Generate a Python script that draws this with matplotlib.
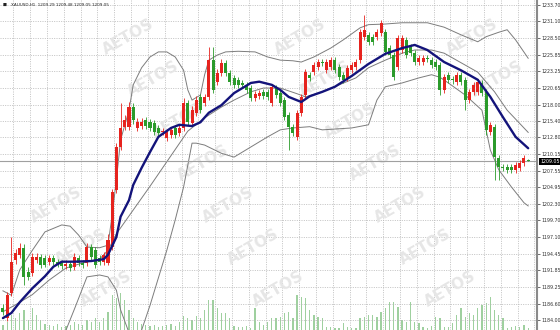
import matplotlib
matplotlib.use("Agg")
import matplotlib.pyplot as plt
import matplotlib.transforms as mtrans
import numpy as np

# === 数据：XAUUSD H1 K线 ===
opens = [1185.9, 1184.3, 1188.3, 1193.5, 1194.3, 1195.4, 1191.6, 1191.4, 1193.5, 1193.9,
         1193.8, 1193.1, 1193.8, 1193.1, 1193.0, 1192.5, 1192.8, 1192.4, 1193.8, 1193.0,
         1193.0, 1195.5, 1195.0, 1193.8, 1193.2, 1193.0, 1195.5, 1204.5, 1211.3, 1214.5,
         1214.5, 1217.6, 1214.3, 1214.6, 1215.6, 1215.2, 1215.1, 1214.3, 1213.7, 1212.7,
         1213.2, 1214.3, 1213.5, 1214.3, 1218.2, 1215.1, 1216.7, 1219.2, 1218.2, 1219.2,
         1225.0, 1221.6, 1223.0, 1224.6, 1223.0, 1222.2, 1221.9, 1221.4, 1221.1, 1220.6,
         1219.0, 1219.3, 1220.0, 1220.0, 1218.2, 1220.6, 1219.8, 1218.7, 1216.3, 1214.5,
         1212.9, 1216.7, 1219.5, 1222.7, 1223.1, 1223.9, 1224.7, 1223.4, 1223.9, 1225.0,
         1223.9, 1222.7, 1222.2, 1223.4, 1223.9, 1225.0, 1228.6, 1229.0, 1228.6, 1228.6,
         1229.3, 1229.4, 1226.9, 1225.8, 1223.9, 1226.6, 1228.2, 1227.1, 1226.1, 1224.7,
         1224.7, 1225.3, 1225.0, 1224.7, 1224.2, 1220.3, 1222.7, 1222.0, 1221.6, 1222.7,
         1221.9, 1218.7, 1220.0, 1220.0, 1221.4, 1220.0, 1213.7, 1214.5, 1209.6, 1208.1,
         1208.1, 1208.1, 1207.7, 1208.0, 1208.8, 1209.29]
highs = [1186.6, 1188.4, 1197.1, 1195.2, 1196.2, 1196.0, 1192.3, 1194.5, 1194.6, 1194.4,
         1194.3, 1194.3, 1194.2, 1193.6, 1193.5, 1193.4, 1193.3, 1194.5, 1194.3, 1193.5,
         1196.1, 1196.0, 1195.5, 1194.3, 1194.8, 1197.5, 1204.7, 1212.0, 1218.2, 1216.4,
         1218.4, 1218.2, 1215.8, 1215.8, 1216.1, 1215.7, 1215.6, 1214.8, 1214.3, 1214.2,
         1214.5, 1214.8, 1214.8, 1219.0, 1218.7, 1217.7, 1219.3, 1219.7, 1219.7, 1227.1,
         1227.1, 1223.6, 1225.2, 1225.1, 1223.5, 1222.7, 1222.4, 1221.9, 1221.6, 1221.1,
         1220.2, 1220.3, 1220.5, 1220.5, 1221.3, 1221.1, 1220.3, 1219.2, 1216.8, 1215.0,
         1217.2, 1219.7, 1223.6, 1223.2, 1224.7, 1225.2, 1225.2, 1225.2, 1225.5, 1225.5,
         1224.4, 1223.2, 1224.3, 1224.7, 1225.2, 1229.9, 1232.1, 1229.5, 1229.1, 1229.9,
         1231.3, 1229.9, 1227.4, 1226.3, 1229.0, 1229.0, 1228.7, 1227.6, 1226.6, 1225.8,
         1225.8, 1225.8, 1225.5, 1225.2, 1224.7, 1222.8, 1223.2, 1222.5, 1223.2, 1223.2,
         1222.4, 1220.5, 1221.6, 1222.1, 1221.9, 1220.5, 1215.3, 1215.0, 1210.1, 1208.6,
         1208.6, 1208.6, 1209.0, 1209.3, 1210.1, 1209.48]
lows = [1184.8, 1183.8, 1187.8, 1192.9, 1193.8, 1189.5, 1190.3, 1190.9, 1193.0, 1192.2,
        1192.3, 1192.7, 1192.7, 1192.4, 1192.1, 1192.1, 1191.8, 1191.9, 1192.5, 1192.2,
        1192.5, 1193.4, 1192.2, 1192.7, 1192.7, 1192.6, 1195.0, 1204.0, 1210.8, 1214.0,
        1214.0, 1215.0, 1213.8, 1214.1, 1214.1, 1213.8, 1213.2, 1213.0, 1213.2, 1212.2,
        1212.7, 1212.7, 1213.0, 1213.8, 1214.7, 1214.6, 1216.2, 1216.6, 1217.7, 1218.7,
        1219.8, 1221.1, 1222.5, 1222.5, 1221.1, 1220.6, 1220.6, 1220.6, 1219.8, 1218.5,
        1218.5, 1218.8, 1218.8, 1218.7, 1217.7, 1219.0, 1217.7, 1215.5, 1210.8, 1213.0,
        1212.4, 1216.2, 1219.0, 1221.7, 1222.6, 1223.4, 1224.1, 1222.9, 1223.4, 1222.9,
        1221.8, 1221.4, 1221.7, 1222.9, 1223.4, 1224.5, 1228.1, 1227.4, 1227.4, 1228.1,
        1228.8, 1225.8, 1225.3, 1221.9, 1223.4, 1226.1, 1225.3, 1225.6, 1224.2, 1224.2,
        1224.2, 1224.7, 1223.7, 1223.4, 1219.5, 1219.8, 1221.4, 1221.3, 1221.1, 1221.1,
        1217.1, 1218.2, 1219.5, 1219.5, 1219.3, 1213.2, 1213.2, 1206.1, 1206.1, 1207.5,
        1207.2, 1207.2, 1207.2, 1207.5, 1208.3, 1209.05]
closes = [1185.3, 1187.9, 1193.2, 1194.6, 1195.4, 1190.8, 1190.8, 1193.9, 1193.9, 1192.7,
          1192.7, 1193.8, 1193.1, 1192.8, 1192.5, 1192.9, 1192.2, 1193.9, 1193.0, 1192.7,
          1195.5, 1193.9, 1192.7, 1193.2, 1194.3, 1196.6, 1204.2, 1211.3, 1214.3, 1215.6,
          1217.6, 1215.6, 1215.2, 1215.2, 1214.6, 1214.3, 1213.7, 1213.5, 1213.8, 1213.7,
          1214.0, 1213.2, 1214.3, 1218.2, 1215.2, 1217.1, 1218.7, 1217.1, 1219.2, 1225.0,
          1220.3, 1223.0, 1224.6, 1223.0, 1221.6, 1221.1, 1221.1, 1221.1, 1220.3, 1219.0,
          1219.7, 1219.8, 1219.3, 1219.2, 1220.8, 1219.5, 1218.2, 1216.0, 1214.5, 1213.5,
          1216.7, 1219.2, 1223.1, 1222.2, 1224.2, 1224.7, 1224.6, 1224.7, 1225.0, 1223.4,
          1222.3, 1221.9, 1223.8, 1224.2, 1224.7, 1229.4, 1229.8, 1227.9, 1227.9, 1229.4,
          1230.9, 1226.3, 1225.8, 1222.3, 1228.5, 1228.5, 1225.8, 1226.1, 1224.7, 1225.3,
          1225.3, 1225.2, 1224.2, 1223.9, 1220.3, 1222.3, 1221.9, 1221.8, 1222.7, 1221.6,
          1218.7, 1220.0, 1221.1, 1221.6, 1219.8, 1214.0, 1214.8, 1209.7, 1208.1, 1208.0,
          1207.7, 1207.7, 1208.5, 1208.8, 1209.6, 1209.05]
volumes = [500, 800, 1500, 1200, 1700, 2000, 1000, 2200, 1500, 1000,
           600, 500, 400, 600, 300, 400, 500, 800, 600, 500,
           1000, 800, 1200, 800, 1200, 1800, 3500, 3200, 3700, 3000,
           2000, 1200, 800, 600, 500, 400, 500, 300, 400, 500,
           600, 400, 800, 1400, 1200, 1000, 1400, 1200, 2000, 3000,
           3000, 2200, 1700, 1700, 1200, 400, 300, 300, 400, 200,
           2200, 800, 500, 800, 1200, 1200, 1300, 1700, 1800, 1200,
           3500, 3300, 3200, 2000, 1500, 1300, 1200, 300, 300, 200,
           200, 700, 300, 200, 200, 1200, 1300, 1500, 1500, 1300,
           1800, 2200, 2800, 2800, 2300, 1000, 800, 2800, 800, 700,
           300, 200, 400, 1300, 1200, 300, 300, 700, 1500, 2200,
           1300, 1700, 1500, 2200, 2500, 2700, 3300, 2000, 1500, 1200,
           200, 300, 400, 300, 500, 200]

# 均线（蓝色粗线）
ma_idx = [0, 2, 4, 7, 10, 12, 14, 17, 21, 24, 25, 27, 28, 30, 31, 33, 35, 37, 40, 42,
          45, 47, 49, 52, 55, 59, 61, 64, 66, 68, 71, 73, 76, 79, 83, 87, 91, 95, 98, 101,
          105, 109, 113, 116, 119, 122, 125]
ma_val = [1184.3, 1185.1, 1186.8, 1189.0, 1190.9, 1192.4, 1193.2, 1193.2, 1193.3, 1193.6,
          1194.3, 1197.1, 1200.3, 1202.9, 1205.3, 1208.0, 1210.5, 1212.9, 1214.3, 1214.8,
          1214.6, 1215.2, 1216.7, 1217.9, 1219.8, 1221.4, 1221.6, 1221.1, 1220.3, 1219.2,
          1218.4, 1219.3, 1220.0, 1220.8, 1222.5, 1224.4, 1226.0, 1226.9, 1227.4, 1226.6,
          1224.7, 1223.4, 1221.9, 1219.2, 1216.0, 1212.9, 1211.1]

# 布林带
upper_idx = [0, 2, 4, 7, 10, 14, 16, 18, 20, 23, 25, 26, 27, 28, 30, 31, 33, 35, 37, 39,
             41, 43, 44, 45, 47, 48, 49, 51, 53, 56, 60, 63, 66, 69, 71, 74, 78, 81, 85, 87,
             91, 95, 101, 105, 109, 113, 115, 118, 120, 122, 125]
upper_val = [1188.6, 1187.9, 1191.9, 1195.0, 1197.9, 1199.0, 1198.8, 1197.4, 1195.5, 1195.4,
             1195.8, 1200.6, 1206.1, 1212.4, 1217.1, 1221.1, 1223.8, 1225.5, 1226.3, 1226.3,
             1225.5, 1223.4, 1220.3, 1218.7, 1219.5, 1222.7, 1225.0, 1225.8, 1226.3, 1226.4,
             1226.3, 1225.5, 1225.0, 1224.9, 1224.7, 1225.5, 1226.9, 1228.2, 1230.1, 1230.6,
             1230.7, 1230.9, 1230.9, 1230.2, 1229.0, 1227.9, 1228.7, 1229.4, 1229.8, 1228.2,
             1225.3]
mid_idx = [0, 3, 7, 11, 15, 19, 23, 25, 27, 35, 44, 48, 52, 55, 59, 62, 66, 70, 72, 76,
           80, 84, 87, 91, 95, 98, 102, 105, 109, 113, 117, 120, 125]
mid_val = [1185.3, 1186.4, 1188.0, 1190.3, 1192.2, 1193.0, 1193.6, 1195.0, 1197.6, 1205.1,
           1213.8, 1215.9, 1217.6, 1218.7, 1220.0, 1220.6, 1220.6, 1219.7, 1219.2, 1220.0,
           1221.1, 1222.2, 1223.8, 1225.0, 1226.1, 1226.6, 1226.6, 1226.1, 1224.6, 1223.1,
           1220.0, 1217.1, 1213.6]
lower_idx = [0, 5, 10, 14, 15, 17, 20, 23, 25, 27, 28, 30, 31, 33, 35, 39, 41, 43, 45, 46,
             48, 52, 55, 59, 63, 66, 69, 73, 76, 83, 87, 89, 91, 95, 99, 102, 104, 106, 110, 114,
             116, 118, 121, 124, 125]
lower_val = [1172.0, 1173.0, 1176.0, 1179.5, 1182.4, 1185.7, 1190.8, 1191.1, 1190.8, 1188.7,
             1185.6, 1182.0, 1179.5, 1182.4, 1186.3, 1195.0, 1199.8, 1205.0, 1211.9, 1211.9,
             1211.6, 1210.3, 1209.7, 1211.3, 1212.9, 1214.0, 1214.3, 1214.5, 1214.0, 1214.3,
             1214.8, 1218.7, 1220.8, 1221.4, 1222.2, 1222.7, 1222.3, 1221.4, 1219.5, 1217.1,
             1210.8, 1207.7, 1205.0, 1202.5, 1202.0]

tick_vals = [1184.00, 1186.60, 1189.25, 1191.85, 1194.45, 1197.10, 1199.70, 1202.30,
             1204.95, 1207.55, 1210.15, 1212.80, 1215.40, 1218.00, 1220.65, 1223.25,
             1225.85, 1228.50, 1231.10, 1233.70]
last_price = 1209.05
header = "XAUUSD,H1  1209.29 1209.48 1209.05 1209.05"

# === 绘图 ===
fig = plt.figure(figsize=(5.6, 3.3), dpi=100)
fig.patch.set_facecolor('white')
ax = fig.add_axes([0, 0, 537 / 560, 1])
vax = ax.twinx()
ax.set_zorder(vax.get_zorder() + 1)
ax.patch.set_visible(False)

x = np.arange(len(opens))
o = np.array(opens); c = np.array(closes)
ax.set_xlim(-0.7, 127.1)
ax.set_ylim(1182.42, 1234.49)

# 网格（虚线）
for t in tick_vals:
    ax.axhline(t, color='#b8b8b8', lw=0.6, ls=(0, (1.2, 1.6)), zorder=0)
for gx in np.arange(2.5, 128, 4):
    ax.axvline(gx, color='#b8b8b8', lw=0.6, ls=(0, (1.2, 1.6)), zorder=0)

# 水印（只保留完整落在图内的）
for k in range(-2, 4):
    for j in range(-8, 9):
        px = 228 + 172 * k + 25 * j
        py = 205 + 42 * j
        if 32 < px < 505 and 22 < py < 308:
            ax.text(px / 560, 1 - py / 330, 'AETOS', transform=fig.transFigure,
                    rotation=30, fontsize=11, fontweight='bold', color='#e6e6e6',
                    ha='center', va='center', zorder=0.5)

# 成交量
vax.bar(x, volumes, width=0.3, color='#9fd09f', zorder=1)
vax.set_ylim(0, 33000)
vax.axis('off')

# 布林带 + 均线
for bi, bv in [(upper_idx, upper_val), (mid_idx, mid_val), (lower_idx, lower_val)]:
    ax.plot(bi, bv, color='#7c7c7c', lw=0.7, zorder=2)

ax.axhline(last_price, color='#a0a0a0', lw=0.8, zorder=2)

# K线
up = c >= o
cols = np.where(up, '#e6231e', '#2b9b2b')
ax.vlines(x, lows, highs, colors=cols, lw=0.6, zorder=3)
body_h = np.maximum(np.abs(c - o), 0.15)
ax.bar(x, body_h, bottom=np.minimum(o, c), width=0.72, color=cols, zorder=3)

ax.plot(ma_idx, ma_val, color='#13137a', lw=1.7, zorder=4, solid_capstyle='round')

# 右侧价格轴
ax.yaxis.tick_right()
ax.set_yticks(tick_vals)
ax.set_yticklabels([f"{t:.2f}" for t in tick_vals])
ax.tick_params(axis='y', labelsize=3.4, length=2, width=0.5, pad=1.5, colors='#333333')
ax.set_xticks([])
for s in ['top', 'left', 'bottom']:
    ax.spines[s].set_visible(False)
ax.spines['right'].set_color('#8a8a8a')
ax.spines['right'].set_linewidth(1.5)

trans = mtrans.blended_transform_factory(ax.transAxes, ax.transData)
ax.text(1.006, last_price, f"{last_price:.2f}", transform=trans, ha='left', va='center',
        fontsize=3.4, color='white', zorder=6,
        bbox=dict(facecolor='black', edgecolor='none', pad=0.8))

# 左上角标题
ax.text(0.004, 0.984, '■', transform=ax.transAxes, fontsize=3.0, color='#222222',
        ha='left', va='center')
ax.text(0.02, 0.984, header, transform=ax.transAxes, fontsize=3.0, color='#222222',
        ha='left', va='center')

plt.savefig('out.png', dpi=100)
